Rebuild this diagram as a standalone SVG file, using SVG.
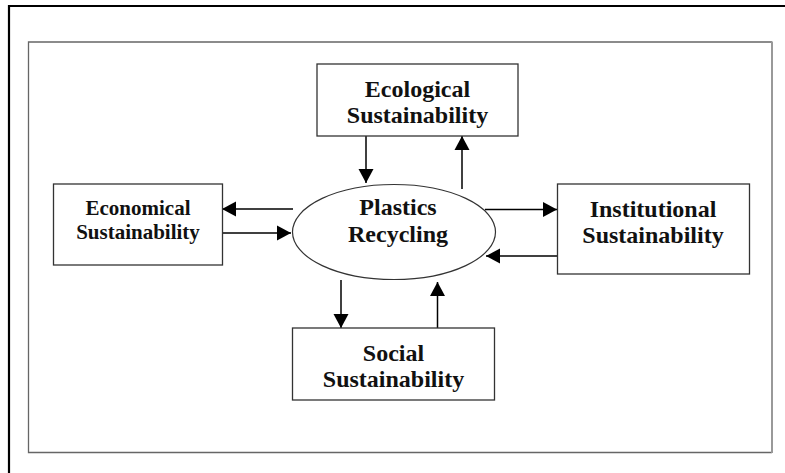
<svg xmlns="http://www.w3.org/2000/svg" width="785" height="473" viewBox="0 0 785 473">
<style>
.box{fill:#fff;stroke:#333;stroke-width:1.3}
.lbl{font-family:"Liberation Serif","Times New Roman",serif;font-weight:bold;font-size:24px;fill:#111;text-anchor:middle}
.small{font-size:21px}
.conn{stroke:#000;stroke-width:1.5;fill:none;marker-end:url(#ah)}
</style>
<defs>
<marker id="ah" markerUnits="userSpaceOnUse" markerWidth="14" markerHeight="16" refX="14" refY="8" orient="auto">
<path d="M0,0.5 L14,8 L0,15.5 z" fill="#000"/>
</marker>
</defs>
<rect width="785" height="473" fill="#fff"/>
<g id="frame">
<path d="M9,473 V6 H785" fill="none" stroke="#000" stroke-width="2.2"/>
<path d="M772,42 H28.5 V452.5 H772" fill="none" stroke="#666" stroke-width="1.3"/>
<line x1="772" y1="41.5" x2="772" y2="453" stroke="#999" stroke-width="2"/>
</g>
<g id="connectors">
<line class="conn" x1="366" y1="136" x2="366" y2="183"/>
<line class="conn" x1="462" y1="189" x2="462" y2="136"/>
<line class="conn" x1="293" y1="209" x2="222" y2="209"/>
<line class="conn" x1="222" y1="233" x2="291" y2="233"/>
<line class="conn" x1="485" y1="209.5" x2="557" y2="209.5"/>
<line class="conn" x1="557" y1="256" x2="486" y2="256"/>
<line class="conn" x1="341" y1="280" x2="341" y2="328"/>
<line class="conn" x1="437.5" y1="328" x2="437.5" y2="282"/>
</g>
<g id="ecological">
<rect class="box" x="317" y="64" width="201" height="72"/>
<text class="lbl" x="417.5" y="97">Ecological</text>
<text class="lbl" x="417.5" y="123">Sustainability</text>
</g>
<g id="plastics">
<ellipse cx="394" cy="232" rx="101.5" ry="47.5" fill="#fff" stroke="#333" stroke-width="1.2"/>
<text class="lbl" x="398" y="214.5">Plastics</text>
<text class="lbl" x="398" y="241.5">Recycling</text>
</g>
<g id="economical">
<rect class="box" x="53.5" y="184" width="169" height="81"/>
<text class="lbl small" x="138" y="215">Economical</text>
<text class="lbl small" x="138" y="238.5">Sustainability</text>
</g>
<g id="institutional">
<rect class="box" x="557.5" y="184" width="192" height="90"/>
<text class="lbl" x="653" y="217">Institutional</text>
<text class="lbl" x="653" y="243">Sustainability</text>
</g>
<g id="social">
<rect class="box" x="292.5" y="328" width="202" height="72"/>
<text class="lbl" x="393.5" y="361">Social</text>
<text class="lbl" x="393.5" y="387">Sustainability</text>
</g>
</svg>
